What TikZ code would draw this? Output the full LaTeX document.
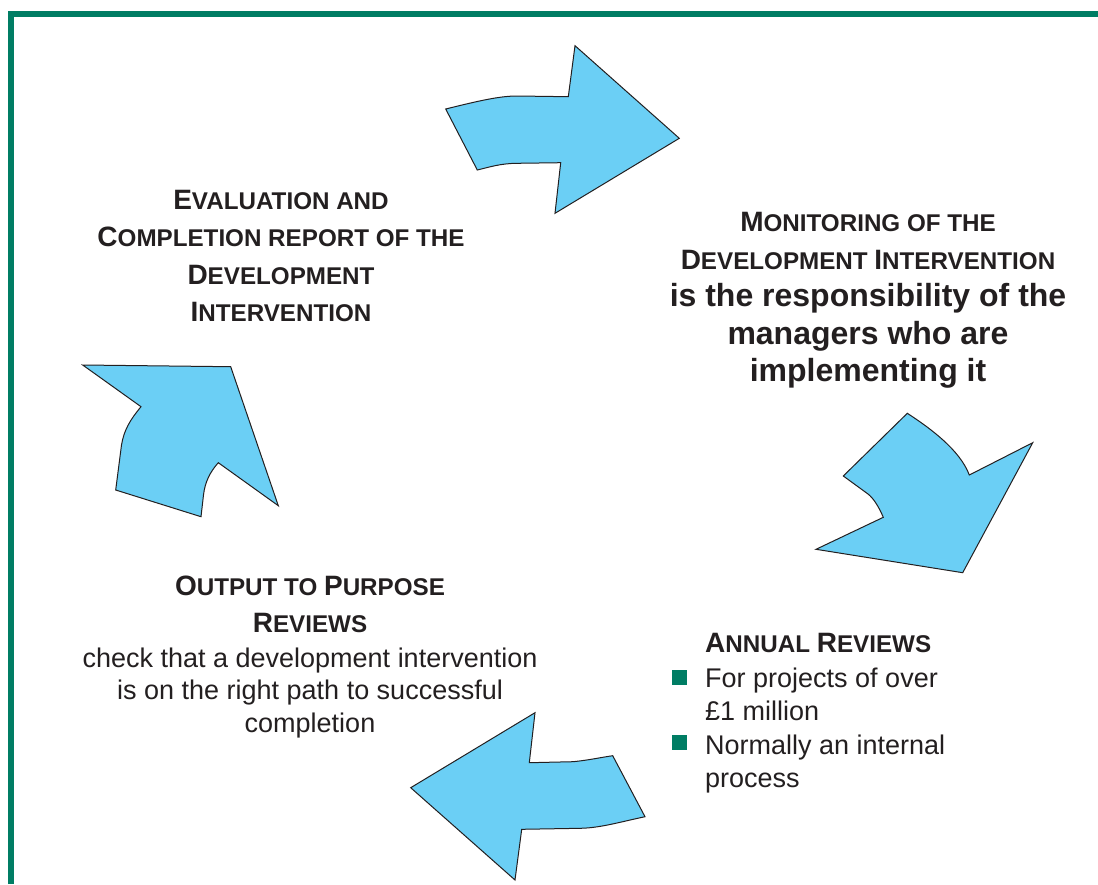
\documentclass[tikz,border=0pt]{standalone}
\usepackage{fontspec}
\setmainfont{Liberation Sans}
\definecolor{framecol}{RGB}{0,125,100}
\definecolor{arrowfill}{RGB}{107,207,245}
\definecolor{ink}{RGB}{35,31,32}
\newcommand\capL[1]{{\fontsize{28}{28}\selectfont #1}}
\newcommand\capS[1]{{\fontsize{24.2}{24.2}\selectfont #1}}
\begin{document}
\begin{tikzpicture}[x=1pt,y=-1pt,
  arrowshape/.style={fill=arrowfill, draw=ink, line width=1pt, line join=miter},
  headline/.style={font=\bfseries, inner sep=0pt, anchor=base, text=ink},
  boldline/.style={font=\bfseries\fontsize{32}{32}\selectfont, inner sep=0pt, anchor=base, text=ink},
  plainline/.style={font=\fontsize{27}{27}\selectfont, inner sep=0pt, anchor=base, text=ink},
  leftline/.style={font=\fontsize{27}{27}\selectfont, inner sep=0pt, anchor=base west, text=ink},
  bulletbox/.style={fill=framecol, minimum size=15pt, inner sep=0pt}]
\useasboundingbox (0,0) rectangle (1098,884);
% frame
\draw[framecol, line width=6pt, line join=miter] (11,884) -- (11,14) -- (1098,14);
% arrow 1 (top, to the right)
\draw[arrowshape] (445.7,109) .. controls (480,100.5) and (500,96) .. (517,96) -- (568.3,96.7)
  -- (575,45.7) -- (679.3,138.3) -- (555,213.3) -- (560.7,162.7) -- (517,163.3)
  .. controls (500,163.5) and (490,167) .. (477.3,170) -- cycle;
% arrow 2 (right, downwards)
\draw[arrowshape] (907.3,413.3) .. controls (930,428) and (960,450) .. (969.3,475)
  -- (1032.7,442.7) -- (962.7,572.7) -- (816,549.3) -- (883.3,517.3)
  .. controls (878,505) and (873,498) .. (868,494) -- (843.3,476) -- cycle;
% arrow 3 (bottom, to the left)
\draw[arrowshape] (535,712.7) -- (529.3,762.7) -- (573,761.7)
  .. controls (590,760) and (600,757.5) .. (612.7,755.7) -- (645,816.7)
  .. controls (620,822) and (600,828) .. (580,828.3) -- (521.7,829.3)
  -- (515,880) -- (410.7,787.7) -- cycle;
% arrow 4 (left, upwards)
\draw[arrowshape] (82.7,365) -- (230.7,366.7) -- (278.3,505.7) -- (218.3,462.7)
  .. controls (210,472) and (205,482) .. (203.5,495) -- (201,516.7)
  -- (115.7,490) -- (121.5,445) .. controls (124,430) and (130,420) .. (141,406.7) -- cycle;
% Evaluation block
\node[headline] (ev1) at (281,209) {\capL{E}\capS{VALUATION AND}};
\node[headline] (ev2) at (281,246.5) {\capL{C}\capS{OMPLETION REPORT OF THE}};
\node[headline] (ev3) at (281,284) {\capL{D}\capS{EVELOPMENT}};
\node[headline] (ev4) at (281,321.5) {\capL{I}\capS{NTERVENTION}};
% Monitoring block
\node[headline] (mo1) at (868,231.5) {\capL{M}\capS{ONITORING OF THE}};
\node[headline] (mo2) at (868,269) {\capL{D}\capS{EVELOPMENT\ }\capL{I}\capS{NTERVENTION}};
\node[boldline] (mo3) at (868,306.5) {is the responsibility of the};
\node[boldline] (mo4) at (868,344) {managers who are};
\node[boldline] (mo5) at (868,381.5) {implementing it};
% Output to purpose block
\node[headline] (op1) at (310,595) {\capL{O}\capS{UTPUT TO\ }\capL{P}\capS{URPOSE}};
\node[headline] (op2) at (310,632) {\capL{R}\capS{EVIEWS}};
\node[plainline] (op3) at (310,667) {check that a development intervention};
\node[plainline] (op4) at (310,699.5) {is on the right path to successful};
\node[plainline] (op5) at (310,732) {completion};
% Annual reviews block
\node[headline, anchor=base west] (ar1) at (705,652.5) {\capL{A}\capS{NNUAL\ }\capL{R}\capS{EVIEWS}};
\node[bulletbox] (bu1) at (679,677) {};
\node[leftline] (ar2) at (705,687) {For projects of over};
\node[leftline] (ar3) at (705,720) {£1 million};
\node[bulletbox] (bu2) at (679,742.5) {};
\node[leftline] (ar4) at (705,754) {Normally an internal};
\node[leftline] (ar5) at (705,787) {process};
\end{tikzpicture}
\end{document}
